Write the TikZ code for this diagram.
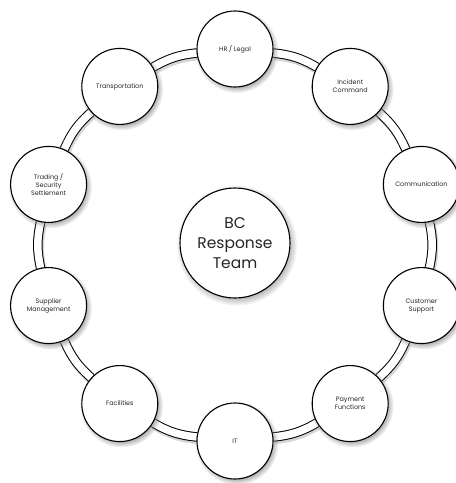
\documentclass[tikz,border=0pt]{standalone}
\usepackage{fontspec}
\setmainfont{Poppins}
\usetikzlibrary{shadows,backgrounds}
\begin{document}
\begin{tikzpicture}[x=1pt,y=1pt,
  team/.style={circle, draw=black, line width=1.1pt, fill=white,
    minimum size=76pt, inner sep=0pt, align=center,
    font=\fontsize{6.4}{8}\selectfont, text=black!85,
    circular drop shadow={shadow xshift=1.5pt, shadow yshift=-2pt, opacity=0.6}},
  hub/.style={team, minimum size=110pt, font=\fontsize{15.5}{20}\selectfont, text=black!85},
  link/.style={draw=black, line width=1pt, double=white, double distance=7.5pt},
  linkshadow/.style={draw=black, opacity=0.16, line width=10pt}]
\useasboundingbox (0,0) rectangle (456,-483);
\begin{scope}[shift={(235,-245)}]
  \node[hub] (hub) at (0,2) {BC\\Response\\Team};
  \node[team] (hr)  at (90:196pt)   {HR / Legal};
  \node[team] (ic)  at (54:196pt)   {Incident\\Command};
  \node[team] (com) at (18:196pt)   {Communication};
  \node[team] (cs)  at (-18:196pt)  {Customer\\Support};
  \node[team] (pf)  at (-54:196pt)  {Payment\\Functions};
  \node[team] (it)  at (-90:196pt)  {IT};
  \node[team] (fac) at (-126:196pt) {Facilities};
  \node[team] (sm)  at (-162:196pt) {Supplier\\Management};
  \node[team] (ts)  at (162:196pt)  {Trading /\\Security\\Settlement};
  \node[team] (tr)  at (126:196pt)  {Transportation};
\end{scope}
\begin{pgfonlayer}{background}
\foreach \a/\b in {hr/ic, ic/com, com/cs, cs/pf, pf/it, it/fac, fac/sm, sm/ts, ts/tr, tr/hr} {
  \draw[linkshadow, transform canvas={xshift=1.2pt,yshift=-2.2pt}] (\a) to[bend left=12] (\b);
  \draw[link] (\a) to[bend left=12] (\b);
}
\end{pgfonlayer}
\end{tikzpicture}
\end{document}
